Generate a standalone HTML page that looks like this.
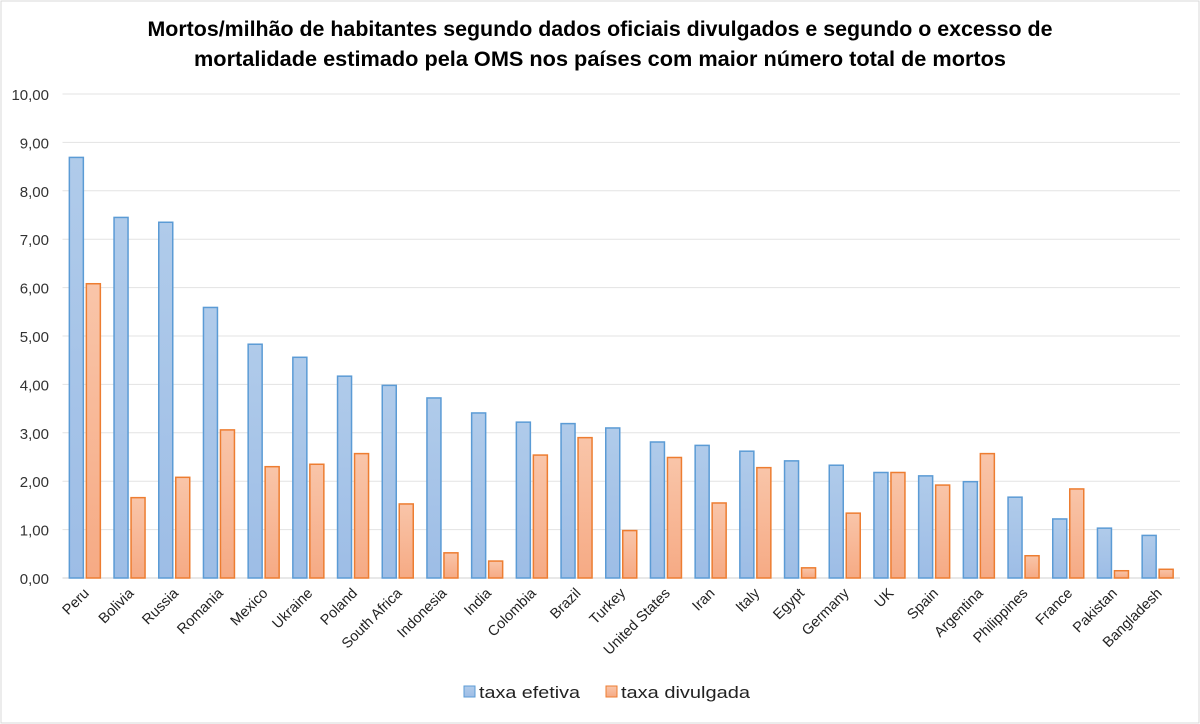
<!DOCTYPE html>
<html><head><meta charset="utf-8"><style>
html,body{margin:0;padding:0;background:#fff}
svg{display:block;font-family:"Liberation Sans",sans-serif}
</style></head><body>
<svg id="chart" width="1200" height="724" viewBox="0 0 1200 724">
<defs>
<linearGradient id="gb" x1="0" y1="0" x2="0" y2="1"><stop offset="0" stop-color="#b0cbea"/><stop offset="1" stop-color="#9dbde6"/></linearGradient>
<linearGradient id="go" x1="0" y1="0" x2="0" y2="1"><stop offset="0" stop-color="#f9c5a9"/><stop offset="1" stop-color="#f6aa84"/></linearGradient>
</defs>
<rect x="1" y="1" width="1198" height="722" fill="#fff" stroke="#d9d9d9"/>
<text x="600" y="36" text-anchor="middle" font-size="21" font-weight="bold" textLength="905" lengthAdjust="spacingAndGlyphs">Mortos/milhão  de habitantes segundo dados oficiais divulgados e segundo o excesso de</text>
<text x="600" y="66" text-anchor="middle" font-size="21" font-weight="bold" textLength="812" lengthAdjust="spacingAndGlyphs">mortalidade  estimado pela OMS nos países com maior número total de mortos</text>
<g id="grid"></g>
<g id="bars"></g>
<g id="labels"></g>
<g>
<rect x="464" y="686" width="11" height="11" fill="url(#gb)" stroke="#5b9bd5"/>
<text x="479" y="698" font-size="17" fill="#222" textLength="101" lengthAdjust="spacingAndGlyphs">taxa efetiva</text>
<rect x="606" y="686" width="11" height="11" fill="url(#go)" stroke="#ed7d31"/>
<text x="621" y="698" font-size="17" fill="#222" textLength="129" lengthAdjust="spacingAndGlyphs">taxa divulgada</text>
</g>
</svg>
<script>
const categories=["Peru","Bolivia","Russia","Romania","Mexico","Ukraine","Poland","South Africa","Indonesia","India","Colombia","Brazil","Turkey","United States","Iran","Italy","Egypt","Germany","UK","Spain","Argentina","Philippines","France","Pakistan","Bangladesh"];
const efetiva=[8.69,7.45,7.35,5.59,4.83,4.56,4.17,3.98,3.72,3.41,3.22,3.19,3.10,2.81,2.74,2.62,2.42,2.33,2.18,2.11,1.99,1.67,1.22,1.03,0.88];
const divulgada=[6.08,1.66,2.08,3.06,2.30,2.35,2.57,1.53,0.52,0.35,2.54,2.90,0.98,2.49,1.55,2.28,0.21,1.34,2.18,1.92,2.57,0.46,1.84,0.15,0.18];
const ticks=[0,1,2,3,4,5,6,7,8,9,10];
const tickLabels=["0,00","1,00","2,00","3,00","4,00","5,00","6,00","7,00","8,00","9,00","10,00"];
const NS="http://www.w3.org/2000/svg";
const X0=62.5,X1=1180,Y0=578,YT=94,YMAX=10;
const step=(X1-X0)/categories.length;
const y=v=>Y0-(v/YMAX)*(Y0-YT);
const xc=i=>X0+step*(i+0.5);
function mk(tag,attrs,parent){const e=document.createElementNS(NS,tag);for(const k in attrs)e.setAttribute(k,attrs[k]);parent.appendChild(e);return e;}
const grid=document.getElementById('grid'),bars=document.getElementById('bars'),labels=document.getElementById('labels');
ticks.forEach((t,i)=>{
 const l=mk('line',{x1:X0,x2:X1,y1:y(t),y2:y(t),stroke:i===0?'#d0d0d0':'#e3e3e3','stroke-width':1},grid);
 
 
 const tx=mk('text',{x:49,y:y(t)+6,'text-anchor':'end','font-size':15,fill:'#333'},grid);
 tx.textContent=tickLabels[i];
 
 
});
const bw=14;
categories.forEach((c,i)=>{
 const cx=xc(i);
 const b=mk('rect',{x:cx-bw-1.5,y:y(efetiva[i]),width:bw,height:Y0-y(efetiva[i]),fill:'url(#gb)',stroke:'#5b9bd5','stroke-width':1.5},bars);
 
 
 const o=mk('rect',{x:cx+1.5,y:y(divulgada[i]),width:bw,height:Y0-y(divulgada[i]),fill:'url(#go)',stroke:'#ed7d31','stroke-width':1.5},bars);
 
 
 const t=mk('text',{x:cx+5,y:594,'text-anchor':'end','font-size':14.5,fill:'#222',transform:`rotate(-45 ${cx+5} 594)`},labels);
 t.textContent=c;
 
 
});
</script>
</body></html>
